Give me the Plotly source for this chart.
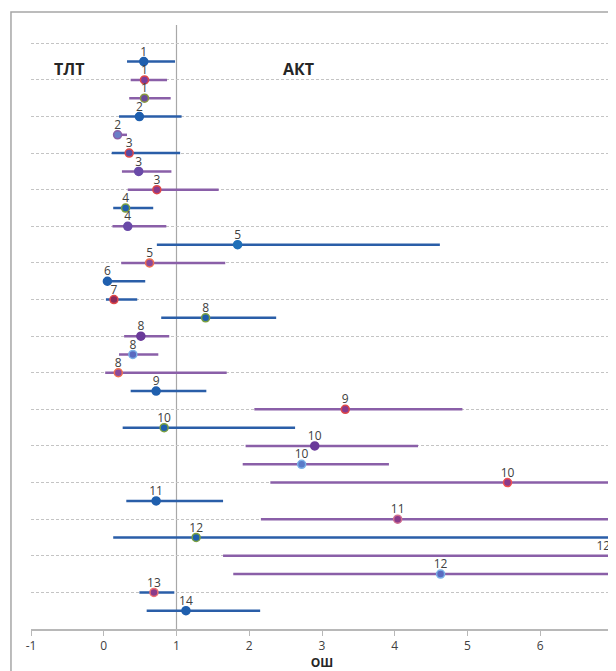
import plotly.graph_objects as go

# ---- data (rows from top to bottom) ----
study_labels = ["1", "1", "1", "2", "2", "3", "3", "3", "4", "4", "5", "5", "6", "7",
                "8", "8", "8", "8", "9", "9", "10", "10", "10", "10", "11", "11",
                "12", "12", "12", "13", "14"]
groups = ["B", "P", "P", "B", "P", "B", "P", "P", "B", "P", "B", "P", "B", "B",
          "B", "P", "P", "P", "B", "P", "B", "P", "P", "P", "B", "P",
          "B", "P", "P", "B", "B"]
or_point = [0.55, 0.56, 0.56, 0.49, 0.19, 0.35, 0.48, 0.73, 0.30, 0.33, 1.84, 0.63, 0.05, 0.14,
            1.40, 0.51, 0.40, 0.20, 0.72, 3.32, 0.83, 2.90, 2.72, 5.55, 0.72, 4.04,
            1.27, 7.30, 4.63, 0.69, 1.13]
ci_low = [0.32, 0.37, 0.35, 0.21, 0.17, 0.11, 0.25, 0.33, 0.13, 0.12, 0.73, 0.24, 0.05, 0.03,
          0.79, 0.28, 0.21, 0.02, 0.37, 2.07, 0.26, 1.95, 1.91, 2.29, 0.31, 2.16,
          0.13, 1.64, 1.78, 0.49, 0.59]
ci_high = [0.98, 0.87, 0.92, 1.07, 0.32, 1.05, 0.93, 1.58, 0.68, 0.86, 4.62, 1.67, 0.57, 0.46,
           2.37, 0.90, 0.75, 1.69, 1.41, 4.93, 2.63, 4.32, 3.92, 8.50, 1.64, 9.00,
           9.50, 10.0, 9.00, 0.97, 2.15]
marker_fill = ["#1f5fae", "#7a3d9a", "#6a4a9a", "#1f5fae", "#6a7fc8", "#5a4aa0", "#6a4aa8", "#8a3a8a",
               "#1f5fae", "#6a4aa8", "#1f6fb8", "#8a4a9a", "#1f5fae", "#8a2a5a",
               "#1f5fae", "#6a3a9a", "#5a6ac0", "#8a4a9a", "#1f5fae", "#8a3a8a", "#1f5fae", "#6a3a9a",
               "#5a7ac8", "#8a3a8a", "#1f5fae", "#8a3a8a", "#1f5fae", "#8a3a8a", "#5a6ac0", "#8a3a8a", "#1f5fae"]
marker_edge = ["#1f5fae", "#e04848", "#8a9a40", "#1f5fae", "#8a5fa8", "#e04848", "#6a4aa8", "#e04848",
               "#7aa040", "#6a4aa8", "#1f6fb8", "#f07050", "#1f5fae", "#e04848",
               "#7aa040", "#6a3a9a", "#7ab0e8", "#f07050", "#1f5fae", "#e04848", "#7aa040", "#6a3a9a",
               "#7ab0e8", "#f05050", "#1f5fae", "#d07090", "#7aa040", "#8a3a8a", "#7ab0e8", "#f07070", "#1f5fae"]
x_ticks = [-1, 0, 1, 2, 3, 4, 5, 6, 7]
side_labels = ["ТЛТ", "АКТ"]
x_title = "ОШ"

X_MIN, X_MAX = -1, 7
n = len(study_labels)
y_pos = [n + 1 - i for i in range(1, n + 1)]  # 31 .. 1

line_color = {"B": "#2a5ea8", "P": "#8a5fa8"}
FONT = "Open Sans, Arial"

fig = go.Figure()

# CI lines
for g in ["B", "P"]:
    xs, ys = [], []
    for i in range(n):
        if groups[i] == g:
            xs += [ci_low[i], ci_high[i], None]
            ys += [y_pos[i], y_pos[i], None]
    fig.add_trace(go.Scatter(x=xs, y=ys, mode="lines",
                             line=dict(color=line_color[g], width=2.5),
                             hoverinfo="skip", showlegend=False))

# point markers
fig.add_trace(go.Scatter(x=or_point, y=y_pos, mode="markers",
                         marker=dict(size=8, color=marker_fill,
                                     line=dict(color=marker_edge, width=1.5)),
                         cliponaxis=True, showlegend=False))

# number labels above points (clamped to the axis range)
txt_x = [min(v, X_MAX) for v in or_point]
txt_pos = ["top left" if v > X_MAX else "top center" for v in or_point]
fig.add_trace(go.Scatter(x=txt_x, y=y_pos, mode="markers+text", text=study_labels,
                         marker=dict(size=3, opacity=0),
                         textposition=txt_pos,
                         textfont=dict(family=FONT, size=12, color="#404040"),
                         cliponaxis=False, showlegend=False, hoverinfo="skip"))

# vertical reference line at OR = 1
fig.add_shape(type="line", x0=1, x1=1, y0=0, y1=33, xref="x", yref="y",
              line=dict(color="#a8a8a8", width=1.2), layer="below")

# chart frame (partly cropped)
fig.add_shape(type="rect", xref="paper", yref="paper",
              x0=-0.0344, x1=1.03, y0=-0.2, y1=1.0215,
              line=dict(color="#a6a6a6", width=1.5))

# side labels
fig.add_annotation(x=-0.48, y=30.6, text="<b>" + side_labels[0] + "</b>", showarrow=False,
                   font=dict(family=FONT, size=16, color="#262626"))
fig.add_annotation(x=2.68, y=30.6, text="<b>" + side_labels[1] + "</b>", showarrow=False,
                   font=dict(family=FONT, size=16, color="#262626"))

fig.update_layout(
    width=608, height=663,
    margin=dict(l=23, r=3, t=17, b=42),
    plot_bgcolor="white", paper_bgcolor="white",
    showlegend=False,
    xaxis=dict(range=[X_MIN, X_MAX], tickvals=x_ticks, ticktext=[str(t) for t in x_ticks],
               showgrid=False, zeroline=False, showline=True, linecolor="#b8b8b8", linewidth=1.5,
               ticks="outside", ticklen=5, tickcolor="#b8b8b8",
               tickfont=dict(family=FONT, size=12, color="#404040"),
               title=dict(text="<b>" + x_title + "</b>", standoff=2,
                          font=dict(family=FONT, size=12, color="#262626"))),
    yaxis=dict(range=[0, 33], tick0=0, dtick=2, showticklabels=False, ticks="",
               showgrid=True, gridcolor="#c4c4c4", gridwidth=1, griddash="3px,2px",
               zeroline=False, showline=False),
)

fig.write_html("out.html")
